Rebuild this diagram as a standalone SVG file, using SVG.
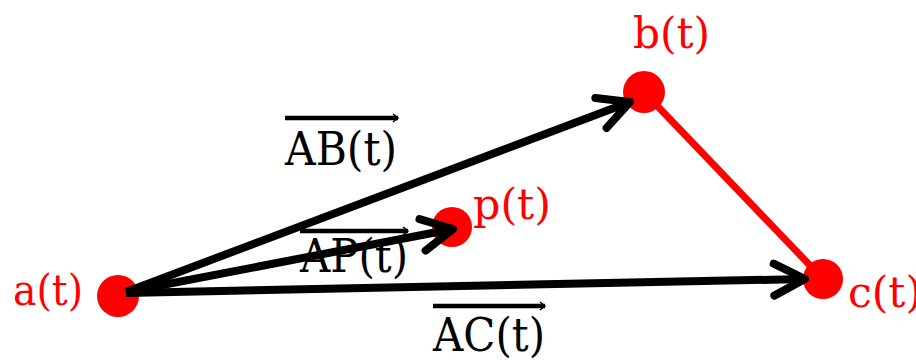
<svg xmlns="http://www.w3.org/2000/svg" width="916" height="360" viewBox="0 0 916 360">
<style>
.dot{fill:#ff0000}
.nl{font-family:"DejaVu Serif","Liberation Serif",serif;font-size:43px;fill:#ff0000}
.vl{font-family:"DejaVu Serif","Liberation Serif",serif;font-size:46px;fill:#000}
.vec{stroke:#000;stroke-width:8;fill:none;marker-end:url(#chev)}
.ov{stroke:#000;stroke-width:4.5;fill:none;marker-end:url(#tiny)}
</style>
<defs>
<marker id="chev" markerUnits="userSpaceOnUse" viewBox="-40 -25 50 50" markerWidth="50" markerHeight="50" refX="0" refY="0" orient="auto" overflow="visible">
<path d="M-31,-16 L0,0 L-31,16" fill="none" stroke="#000" stroke-width="8" stroke-linecap="round" stroke-linejoin="round"/>
</marker>
<marker id="tiny" markerUnits="userSpaceOnUse" viewBox="-8 -6 12 12" markerWidth="12" markerHeight="12" refX="0" refY="0" orient="auto" overflow="visible">
<path d="M-5,-4 L0,0 L-5,4" fill="none" stroke="#000" stroke-width="1.5"/>
</marker>
</defs>
<g id="node-a">
<circle class="dot" cx="118" cy="296" r="21"/>
<text class="nl" x="13" y="305" textLength="70" lengthAdjust="spacingAndGlyphs">a(t)</text>
</g>
<g id="node-b">
<circle class="dot" cx="644" cy="92" r="21"/>
<text class="nl" x="633" y="48" textLength="77" lengthAdjust="spacingAndGlyphs">b(t)</text>
</g>
<g id="node-p">
<circle class="dot" cx="452" cy="227" r="20"/>
<text class="nl" x="473" y="219" textLength="78" lengthAdjust="spacingAndGlyphs">p(t)</text>
</g>
<g id="node-c">
<circle class="dot" cx="823" cy="279" r="20"/>
<text class="nl" x="848" y="307" textLength="74" lengthAdjust="spacingAndGlyphs">c(t)</text>
</g>
<g id="connectors">
<line x1="644" y1="92" x2="823" y2="279" stroke="#ff0000" stroke-width="7"/>
<line class="vec" x1="126" y1="292" x2="630" y2="102"/>
<line class="vec" x1="126" y1="292" x2="453" y2="229"/>
<line class="vec" x1="126" y1="293" x2="805" y2="279"/>
<g id="label-ab">
<line class="ov" x1="285" y1="118" x2="398" y2="118"/>
<text class="vl" x="285" y="165" textLength="112" lengthAdjust="spacingAndGlyphs">AB(t)</text>
</g>
<g id="label-ap">
<line class="ov" x1="300" y1="231" x2="408" y2="231"/>
<text class="vl" x="300" y="272" textLength="108" lengthAdjust="spacingAndGlyphs">AP(t)</text>
</g>
<g id="label-ac">
<line class="ov" x1="433" y1="306" x2="545" y2="306"/>
<text class="vl" x="433" y="351" textLength="112" lengthAdjust="spacingAndGlyphs">AC(t)</text>
</g>
</g>
</svg>
